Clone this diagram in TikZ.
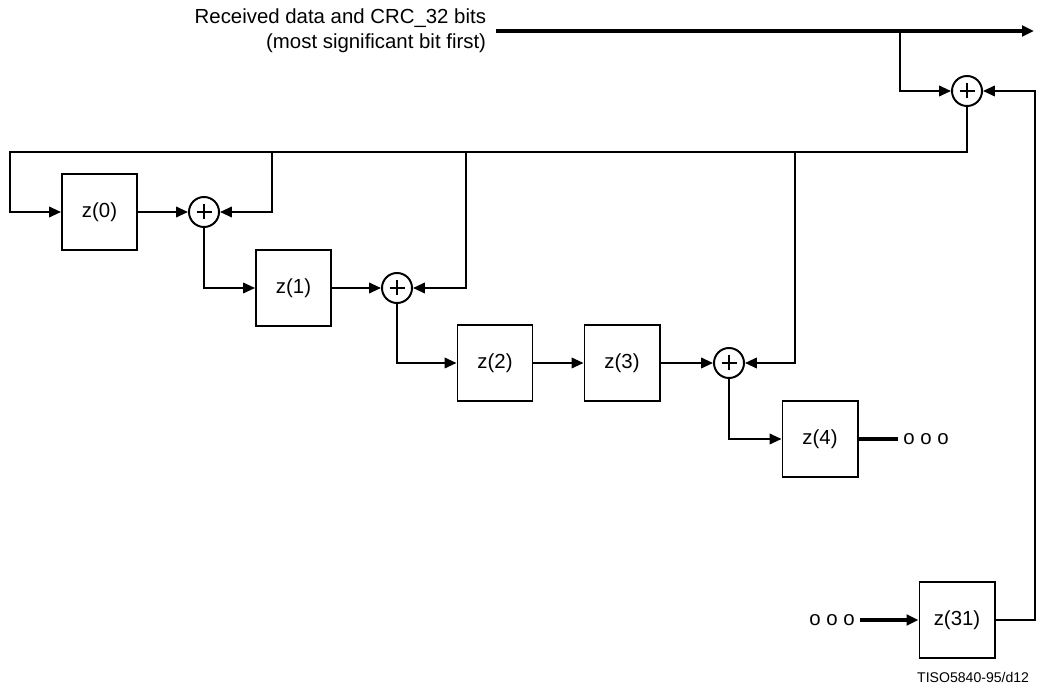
\documentclass[tikz,border=0pt]{standalone}
\usepackage{fontspec}
\setmainfont{Liberation Sans}
\usetikzlibrary{arrows.meta}

\begin{document}
\begin{tikzpicture}[x=0.025cm,y=-0.025cm,line width=1.4pt,
  reg/.style={draw,minimum width=1.875cm,minimum height=1.9cm,inner sep=0pt,
    font=\fontsize{14.5}{17}\selectfont},
  xor/.style={draw,circle,minimum size=0.75cm,inner sep=0pt,
    path picture={\draw[line width=2pt] (path picture bounding box.center)
      ++(-7.5,0) -- ++(15,0) ++(-7.5,-7.5) -- ++(0,15);}},
  bold/.style={line width=2.2pt},
  txt/.style={font=\fontsize{14.5}{17.5}\selectfont}]
  \tikzset{>={Triangle[length=8.5pt,width=7.5pt]}}
  \useasboundingbox (0,0) rectangle (1047,688);

  \node [txt,align=right,anchor=east,inner sep=0pt] (recv) at (487,31)
    {Received data and CRC\_32 bits\\(most significant bit first)};
  \coordinate (dataIn) at (496,31);
  \coordinate (dataOut) at (1034,31);
  \coordinate (split) at (900,31);

  \foreach \i/\px/\py in {0/99.5/212, 1/293.5/288, 2/495/363, 3/622/363, 4/820/439, 31/957/620} {
    \node [reg] (z\i) at (\px,\py) {z(\i)};
  }
  \foreach \i/\px/\py in {0/204/212, 1/397/288, 3/729/363} {
    \node [xor] (add\i) at (\px,\py) {};
  }
  \node [xor] (addTop) at (967,91) {};

  \coordinate (busL) at (10,152);
  \coordinate (rt) at (1035,91);
  \foreach \i/\tx in {0/272, 1/466, 3/795} {
    \coordinate (tap\i) at (\tx,152);
  }

  \node [txt] (dotsA) at (926,439) {o o o};
  \node [txt] (dotsB) at (832,620) {o o o};
  \node [font=\fontsize{10}{12}\selectfont,anchor=east,inner sep=0pt] (figId) at (1030,677) {TISO5840-95/d12};

  \draw [->,bold] (dataIn) -- (dataOut);
  \draw [->] (split) |- (addTop.west);
  \draw [->] (z31.east) -| (rt) -- (addTop.east);
  \draw [->] (addTop.south) |- (busL) |- (z0.west);
  \draw (busL) -- (tap3);
  \foreach \i in {0,1,3} {
    \draw [->] (tap\i) |- (add\i.east);
  }

  \draw [->] (z0.east) -- (add0.west);
  \draw [->] (add0.south) |- (z1.west);
  \draw [->] (z1.east) -- (add1.west);
  \draw [->] (add1.south) |- (z2.west);
  \draw [->] (z2.east) -- (z3.west);
  \draw [->] (z3.east) -- (add3.west);
  \draw [->] (add3.south) |- (z4.west);
  \draw [bold] (z4.east) -- (dotsA.west);
  \draw [->,bold] (dotsB.east) -- (z31.west);
\end{tikzpicture}
\end{document}
